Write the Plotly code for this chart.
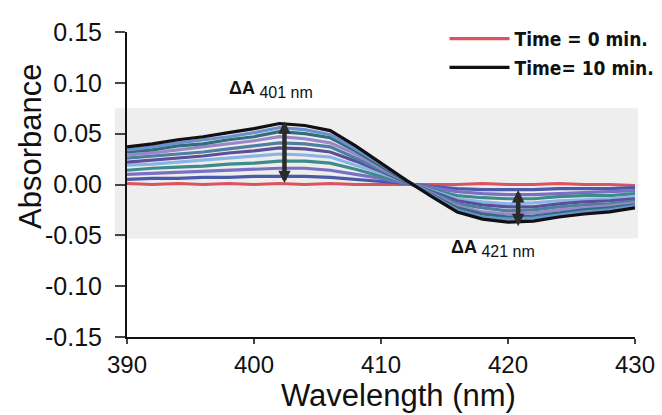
import plotly.graph_objects as go

wavelength = [390, 392, 394, 396, 398, 400, 402, 404, 406, 408, 410,
              412, 414, 416, 418, 420, 422, 424, 426, 428, 430]

times = [0, 1, 2, 3, 4, 5, 6, 7, 8, 9, 10]

abs_t0 = [0.001, 0.000, 0.001, 0.000, 0.001, 0.000, 0.001, 0.000, 0.001, 0.000, 0.000,
          0.000, 0.000, 0.000, 0.001, 0.000, 0.000, 0.001, 0.000, 0.000, -0.001]
abs_t1 = [0.005, 0.006, 0.006, 0.007, 0.007, 0.008, 0.008, 0.008, 0.007, 0.005, 0.003,
          0.001, -0.002, -0.004, -0.005, -0.005, -0.005, -0.004, -0.004, -0.004, -0.003]
abs_t2 = [0.010, 0.011, 0.012, 0.013, 0.014, 0.015, 0.016, 0.016, 0.014, 0.010, 0.006,
          0.001, -0.003, -0.007, -0.009, -0.010, -0.010, -0.009, -0.008, -0.007, -0.006]
abs_t3 = [0.014, 0.016, 0.017, 0.018, 0.020, 0.021, 0.023, 0.023, 0.021, 0.015, 0.008,
          0.002, -0.005, -0.011, -0.013, -0.014, -0.014, -0.012, -0.011, -0.011, -0.009]
abs_t4 = [0.019, 0.020, 0.022, 0.024, 0.026, 0.028, 0.030, 0.029, 0.027, 0.019, 0.011,
          0.002, -0.006, -0.014, -0.017, -0.019, -0.018, -0.016, -0.015, -0.014, -0.012]
abs_t5 = [0.022, 0.024, 0.026, 0.028, 0.031, 0.033, 0.036, 0.035, 0.032, 0.023, 0.013,
          0.002, -0.007, -0.016, -0.020, -0.022, -0.022, -0.019, -0.017, -0.016, -0.014]
abs_t6 = [0.026, 0.028, 0.030, 0.032, 0.035, 0.038, 0.041, 0.040, 0.037, 0.026, 0.014,
          0.003, -0.008, -0.019, -0.023, -0.026, -0.025, -0.022, -0.020, -0.019, -0.016]
abs_t7 = [0.029, 0.031, 0.034, 0.037, 0.040, 0.043, 0.047, 0.045, 0.041, 0.030, 0.016,
          0.003, -0.009, -0.021, -0.027, -0.029, -0.028, -0.025, -0.023, -0.021, -0.018]
abs_t8 = [0.032, 0.034, 0.038, 0.040, 0.044, 0.047, 0.052, 0.050, 0.046, 0.033, 0.018,
          0.003, -0.010, -0.023, -0.029, -0.032, -0.031, -0.028, -0.025, -0.023, -0.020]
abs_t9 = [0.034, 0.037, 0.041, 0.044, 0.047, 0.051, 0.056, 0.054, 0.049, 0.035, 0.020,
          0.004, -0.011, -0.025, -0.032, -0.034, -0.033, -0.030, -0.027, -0.025, -0.021]
abs_t10 = [0.037, 0.040, 0.044, 0.047, 0.051, 0.055, 0.060, 0.058, 0.053, 0.038, 0.021,
           0.004, -0.012, -0.027, -0.034, -0.037, -0.036, -0.032, -0.029, -0.027, -0.023]

spectra = [abs_t0, abs_t1, abs_t2, abs_t3, abs_t4, abs_t5,
           abs_t6, abs_t7, abs_t8, abs_t9, abs_t10]

# arrow markers (wavelength, start, end)
arrow401 = [402.4, 0.000, 0.062]
arrow421 = [420.8, -0.004, -0.041]

x_ticks = [390, 400, 410, 420, 430]
y_ticks = [-0.15, -0.10, -0.05, 0.00, 0.05, 0.10, 0.15]
y_tick_labels = ["-0.15", "-0.10", "-0.05", "0.00", "0.05", "0.10", "0.15"]

mid_colors = ["#4a5aa8", "#7b6fc4", "#3e8c8a", "#8ab4e6", "#5b4f9a",
              "#4f7fa0", "#9a86c8", "#2f6f7a", "#6c8fd0"]

FONT = "Liberation Sans, Arial, sans-serif"
W, H = 662, 415
L, R, T, B = 127, 27, 32, 78
PW, PH = W - L - R, H - T - B


def px_x(x):
    return (x - L) / PW


def px_y(y):
    return (H - B - y) / PH


fig = go.Figure()

for i, (t, ys) in enumerate(zip(times, spectra)):
    if i == 0:
        color, name, show = "#d9545e", "Time = 0 min.", True
    elif i == len(times) - 1:
        color, name, show = "#111111", "Time= 10 min.", True
    else:
        color, name, show = mid_colors[(i - 1) % len(mid_colors)], f"Time = {t} min.", False
    fig.add_trace(go.Scatter(x=wavelength, y=ys, mode="lines", name=name,
                             legendgroup=f"g{i}", showlegend=show,
                             line=dict(color=color, width=3.2)))

fig.data[0].legendrank = 1
fig.data[-1].legendrank = 2

# light background band of the scanned spectra panel
fig.add_shape(type="rect", xref="paper", yref="y", x0=-0.024, x1=1.006, y0=-0.053, y1=0.075,
              fillcolor="#eeeeee", line=dict(width=0), layer="below")

for arr in (arrow401, arrow421):
    fig.add_annotation(x=arr[0], y=arr[2], ax=arr[0], ay=arr[1], xref="x", yref="y",
                       axref="x", ayref="y", showarrow=True, arrowhead=2, arrowside="end+start",
                       arrowsize=0.55, arrowwidth=4.5, arrowcolor="#2b2b2b", text="")

fig.add_annotation(x=401.3, y=0.093, xref="x", yref="y", showarrow=False,
                   text="<b>ΔA</b><sub><span style='font-size:16px'> 401 nm</span></sub>",
                   font=dict(family=FONT, size=18, color="#111111"))
fig.add_annotation(x=418.8, y=-0.063, xref="x", yref="y", showarrow=False,
                   text="<b>ΔA</b><sub><span style='font-size:16px'> 421 nm</span></sub>",
                   font=dict(family=FONT, size=18, color="#111111"))

# axis titles
fig.add_annotation(x=px_x(398), y=px_y(395), xref="paper", yref="paper", showarrow=False,
                   xanchor="center", yanchor="middle",
                   text="Wavelength (nm)", font=dict(family=FONT, size=31, color="#111111"))
fig.add_annotation(x=px_x(30), y=px_y(147), xref="paper", yref="paper", showarrow=False,
                   xanchor="center", yanchor="middle", textangle=-90,
                   text="Absorbance", font=dict(family=FONT, size=31, color="#111111"))

fig.update_layout(
    width=W, height=H,
    margin=dict(l=L, r=R, t=T, b=B, autoexpand=False),
    paper_bgcolor="white", plot_bgcolor="white",
    font=dict(family=FONT, color="#111111"),
    legend=dict(x=0.625, y=1.04, xanchor="left", yanchor="top", bgcolor="rgba(0,0,0,0)",
                itemwidth=60, tracegroupgap=1,
                font=dict(family="DejaVu Sans Condensed, DejaVu Sans, sans-serif",
                          size=19, color="#111111", weight="bold")),
    xaxis=dict(range=[390, 430], tickvals=x_ticks, ticks="outside", ticklen=5, tickwidth=2,
               showline=True, linecolor="#111111", linewidth=2, showgrid=False, zeroline=False,
               tickfont=dict(size=24)),
    yaxis=dict(range=[-0.15, 0.15], tickvals=y_ticks, ticktext=y_tick_labels, ticks="outside",
               ticklen=10, tickwidth=2, ticklabelstandoff=8, showline=True, linecolor="#111111",
               linewidth=2, showgrid=False, zeroline=False, tickfont=dict(size=25)),
)

fig.write_html("out.html", config={"displayModeBar": False},
               post_script="document.body.style.margin='0';")
